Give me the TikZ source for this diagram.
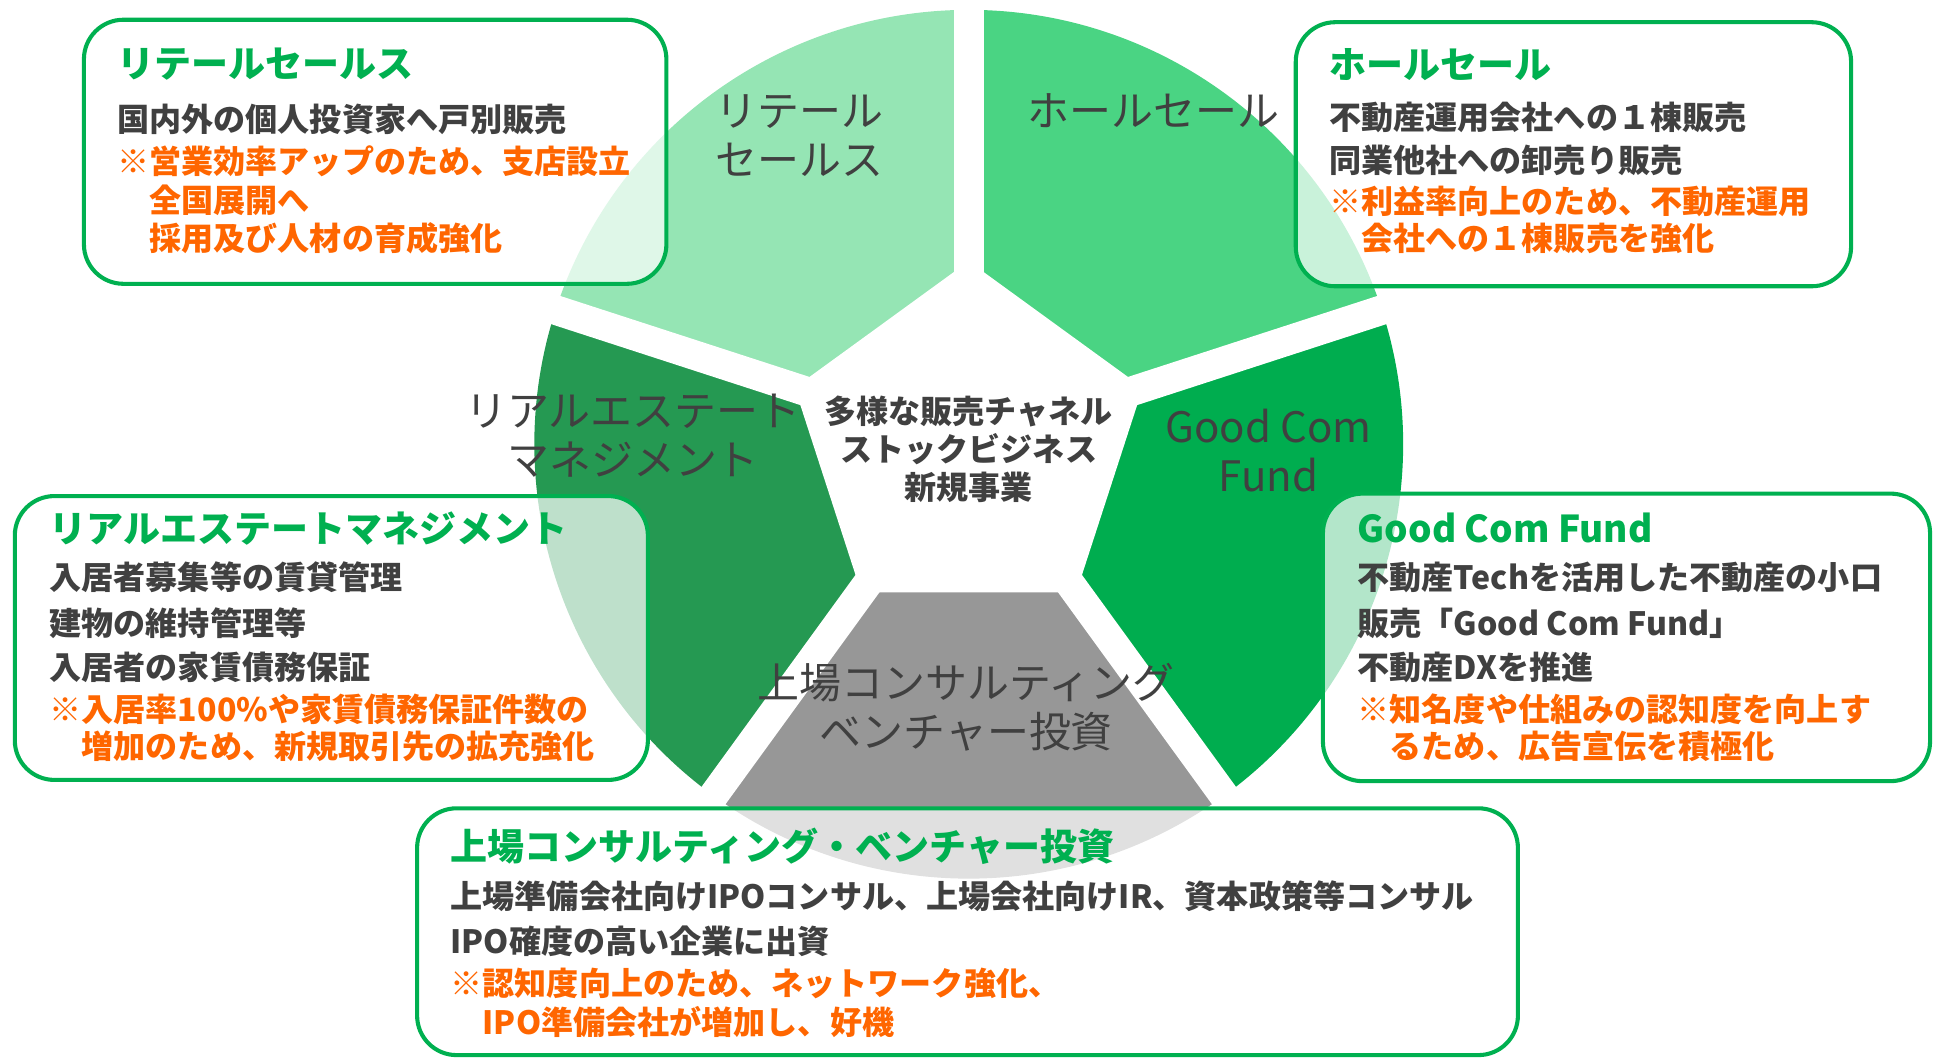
\documentclass[tikz,border=0pt]{standalone}
\usepackage{fontspec}
\setmainfont{Noto Sans CJK JP}

\definecolor{gcgreen}{HTML}{00B050}
\definecolor{retailcol}{HTML}{95E5B4}
\definecolor{wholecol}{HTML}{4AD483}
\definecolor{fundcol}{HTML}{00AD4F}
\definecolor{reamcol}{HTML}{259952}
\definecolor{ipocol}{HTML}{979797}
\definecolor{txtgray}{HTML}{404040}
\definecolor{noteorange}{HTML}{FF6600}

\tikzset{
  infobox/.style={draw=gcgreen, line width=3.3pt, rounded corners=32pt, fill=white, fill opacity=0.7},
  boxtitle/.style={anchor=west, inner sep=0pt, text=gcgreen, font=\bfseries\fontsize{30}{36}\selectfont},
  boxline/.style={anchor=west, inner sep=0pt, text=txtgray, font=\bfseries\fontsize{26}{30}\selectfont},
  boxnote/.style={boxline, text=noteorange},
  seclabel/.style={inner sep=0pt, align=center, text=txtgray, font=\fontsize{34}{40}\selectfont},
  hubtext/.style={inner sep=0pt, align=center, text=txtgray, font=\bfseries\fontsize{26}{31}\selectfont}
}

\begin{document}
\begin{tikzpicture}[x=1pt,y=1pt]
\useasboundingbox (0,0) rectangle (1568,858);

% wheel
\begin{scope}[shift={(785,498)}]
\fill[retailcol] (0,0) -- (90:352) arc (90:162:352) -- cycle;
\fill[reamcol] (0,0) -- (162:352) arc (162:234:352) -- cycle;
\fill[ipocol] (0,0) -- (234:352) arc (234:306:352) -- cycle;
\fill[fundcol] (0,0) -- (306:352) arc (306:378:352) -- cycle;
\fill[wholecol] (0,0) -- (18:352) arc (18:90:352) -- cycle;

\draw[white, line width=24pt] (0,0) -- (90:362);
\draw[white, line width=24pt] (0,0) -- (162:362);
\draw[white, line width=24pt] (0,0) -- (234:362);
\draw[white, line width=24pt] (0,0) -- (306:362);
\draw[white, line width=24pt] (0,0) -- (18:362);

\fill[white] (90:148.3) -- (162:148.3) -- (234:148.3) -- (306:148.3) -- (18:148.3) -- cycle;
\end{scope}

% boxes
\draw[infobox] (68,628) rectangle (540,842);
\draw[infobox] (1050,626) rectangle (1500,840);
\draw[infobox] (12,226) rectangle (525,456);
\draw[infobox] (1072,225) rectangle (1564,458);
\draw[infobox] (338,3) rectangle (1230,203);

% labels on the wheel
\node[seclabel] (lbl-retail) at (648,748) {リテール\\セールス};
\node[seclabel] (lbl-whole) at (935,768) {ホールセール};
\node[seclabel] (lbl-ream) at (513,505) {リアルエステート\\マネジメント};
\node[seclabel] (lbl-fund) at (1028,493) {Good Com\\Fund};
\node[seclabel] (lbl-ipo) at (783,285) {上場コンサルティング\\ベンチャー投資};

\node[hubtext] (hub) at (785,494) {多様な販売チャネル\\ストックビジネス\\新規事業};

% retail sales
\node[boxtitle] (rs-t) at (95,806) {リテールセールス};
\node[boxline] (rs-1) at (95,761) {国内外の個人投資家へ戸別販売};
\node[boxnote] (rs-2) at (95,727) {※営業効率アップのため、支店設立};
\node[boxnote] (rs-3) at (121,696) {全国展開へ};
\node[boxnote] (rs-4) at (121,665) {採用及び人材の育成強化};

% wholesale
\node[boxtitle] (ws-t) at (1077,806) {ホールセール};
\node[boxline] (ws-1) at (1077,763) {不動産運用会社への１棟販売};
\node[boxline] (ws-2) at (1077,728) {同業他社への卸売り販売};
\node[boxnote] (ws-3) at (1077,695) {※利益率向上のため、不動産運用};
\node[boxnote] (ws-4) at (1103,665) {会社への１棟販売を強化};

% real estate management
\node[boxtitle] (rm-t) at (40,430) {リアルエステートマネジメント};
\node[boxline] (rm-1) at (40,390) {入居者募集等の賃貸管理};
\node[boxline] (rm-2) at (40,353) {建物の維持管理等};
\node[boxline] (rm-3) at (40,317) {入居者の家賃債務保証};
\node[boxnote] (rm-4) at (40,283) {※入居率100\%や家賃債務保証件数の};
\node[boxnote] (rm-5) at (66,253) {増加のため、新規取引先の拡充強化};

% good com fund
\node[boxtitle] (gf-t) at (1100,430) {Good Com Fund};
\node[boxline] (gf-1) at (1100,390) {不動産Techを活用した不動産の小口};
\node[boxline] (gf-2) at (1100,353) {販売「Good Com Fund」};
\node[boxline] (gf-3) at (1100,317) {不動産DXを推進};
\node[boxnote] (gf-4) at (1100,283) {※知名度や仕組みの認知度を向上す};
\node[boxnote] (gf-5) at (1126,253) {るため、広告宣伝を積極化};

% consulting / venture
\node[boxtitle] (ip-t) at (365,172) {上場コンサルティング・ベンチャー投資};
\node[boxline] (ip-1) at (365,132) {上場準備会社向けIPOコンサル、上場会社向けIR、資本政策等コンサル};
\node[boxline] (ip-2) at (365,95) {IPO確度の高い企業に出資};
\node[boxnote] (ip-3) at (365,61) {※認知度向上のため、ネットワーク強化、};
\node[boxnote] (ip-4) at (391,30) {IPO準備会社が増加し、好機};

\end{tikzpicture}
\end{document}
